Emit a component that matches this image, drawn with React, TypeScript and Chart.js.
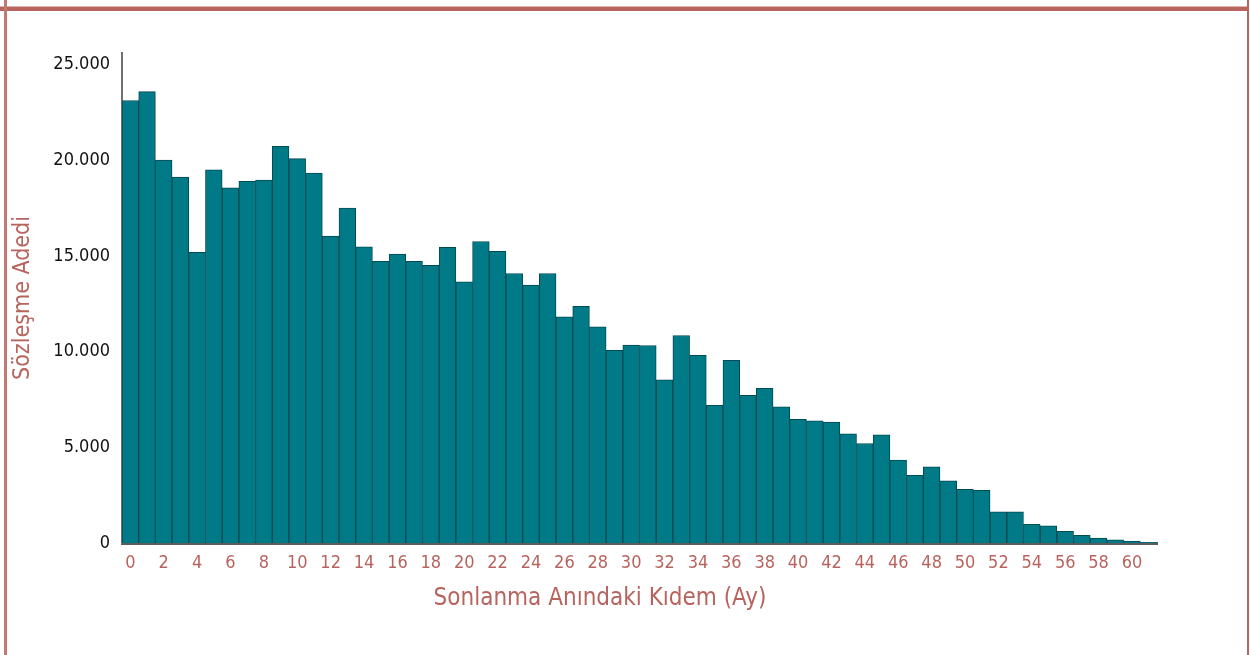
import React, { useEffect, useRef } from "react";
import { Chart, registerables } from "chart.js";

Chart.register(...registerables);

// Tenure at termination (months)
const tenureMonths = [
  "0", "1", "2", "3", "4", "5", "6", "7", "8", "9",
  "10", "11", "12", "13", "14", "15", "16", "17", "18", "19",
  "20", "21", "22", "23", "24", "25", "26", "27", "28", "29",
  "30", "31", "32", "33", "34", "35", "36", "37", "38", "39",
  "40", "41", "42", "43", "44", "45", "46", "47", "48", "49",
  "50", "51", "52", "53", "54", "55", "56", "57", "58", "59",
  "60", "61",
];

// Number of contracts
const contractCounts = [
  23120, 23580, 20010, 19120, 15190, 19490, 18550, 18900, 18960, 20720,
  20080, 19330, 16040, 17500, 15470, 14720, 15100, 14720, 14510, 15450,
  13640, 15750, 15240, 14080, 13480, 14080, 11810, 12370, 11290, 10070,
  10340, 10320, 8520, 10840, 9810, 7190, 9540, 7710, 8080, 7110,
  6460, 6380, 6320, 5710, 5200, 5650, 4330, 3530, 3980, 3250,
  2800, 2750, 1630, 1630, 980, 900, 610, 400, 260, 170,
  90, 40,
];

const yTickValues = [0, 5000, 10000, 15000, 20000, 25000];

const X_TITLE = "Sonlanma Anındaki Kıdem (Ay)";
const Y_TITLE = "Sözleşme Adedi";

const FONT = 'Tahoma, "DejaVu Sans Condensed", "DejaVu Sans", sans-serif';
const RED = "#b7645e";
const BAR_FILL = "#007a87";
const BAR_BORDER = "#004a52";

function formatTr(v: number): string {
  return String(Math.round(v)).replace(/\B(?=(\d{3})+(?!\d))/g, ".");
}

const xTitlePlugin = {
  id: "xTitleCustom",
  afterDraw(chart: any) {
    const ctx = chart.ctx as CanvasRenderingContext2D;
    ctx.save();
    ctx.font = `24px ${FONT}`;
    ctx.fillStyle = RED;
    ctx.textAlign = "center";
    ctx.textBaseline = "middle";
    ctx.fillText(X_TITLE, 600, 599);
    ctx.restore();
  },
};

export default function App() {
  const ref = useRef<HTMLCanvasElement>(null);

  useEffect(() => {
    if (!ref.current) return;
    const chart = new Chart(ref.current, {
      type: "bar",
      data: {
        labels: tenureMonths,
        datasets: [
          {
            label: Y_TITLE,
            data: contractCounts,
            backgroundColor: BAR_FILL,
            borderColor: BAR_BORDER,
            borderWidth: 1,
            barPercentage: 1,
            categoryPercentage: 1,
          },
        ],
      },
      options: {
        responsive: false,
        animation: false,
        devicePixelRatio: 1,
        layout: { padding: { left: 0, top: 53, right: 93, bottom: 0 } },
        plugins: {
          legend: { display: false },
          tooltip: { enabled: false },
        },
        scales: {
          x: {
            grid: { display: false },
            border: { display: true, color: "#5c5c5c", width: 3 },
            ticks: {
              autoSkip: false,
              maxRotation: 0,
              minRotation: 0,
              padding: 2,
              color: RED,
              font: { family: FONT, size: 18 },
              callback: (_v: any, idx: number) => (idx % 2 === 0 ? tenureMonths[idx] : ""),
            },
            afterFit: (scale: any) => {
              scale.height = 112;
            },
          },
          y: {
            min: 0,
            max: 25600,
            grid: { display: false },
            border: { display: true, color: "#707070", width: 2 },
            ticks: {
              padding: 4,
              color: "#111111",
              font: { family: FONT, size: 18 },
              callback: (v: any) => formatTr(Number(v)),
            },
            afterBuildTicks: (scale: any) => {
              scale.ticks = yTickValues.map((v) => ({ value: v }));
            },
            afterFit: (scale: any) => {
              scale.width = 122;
            },
            title: {
              display: true,
              text: Y_TITLE,
              color: RED,
              font: { family: FONT, size: 23 },
              padding: { top: 9, bottom: 0 },
            },
          },
        },
      },
      plugins: [xTitlePlugin],
    });
    return () => chart.destroy();
  }, []);

  return (
    <div
      style={{
        position: "fixed",
        left: 0,
        top: 0,
        width: 1250,
        height: 655,
        background: "#ffffff",
        overflow: "hidden",
      }}
    >
      <canvas
        ref={ref}
        width={1250}
        height={655}
        style={{ position: "absolute", left: 0, top: 0, width: 1250, height: 655 }}
      />
      <div style={{ position: "absolute", left: 0, top: 6, width: 1249, height: 1, background: "#dcb3af" }} />
      <div style={{ position: "absolute", left: 0, top: 7, width: 1249, height: 4, background: RED }} />
      <div style={{ position: "absolute", left: 4, top: 0, width: 3, height: 655, background: "#c07a74" }} />
      <div style={{ position: "absolute", left: 1247, top: 0, width: 2, height: 655, background: RED }} />
    </div>
  );
}
